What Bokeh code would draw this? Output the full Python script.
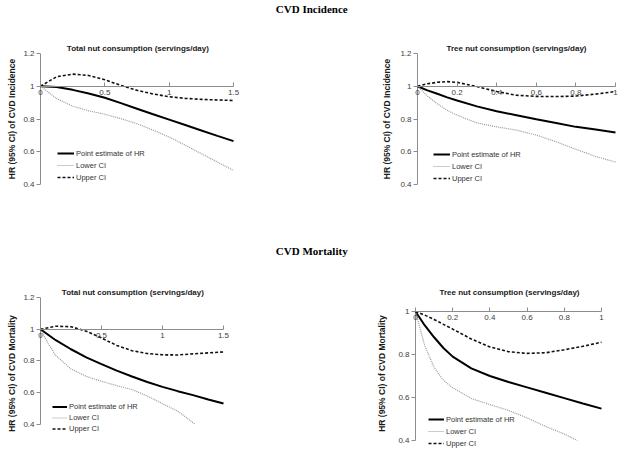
from bokeh.plotting import figure
from bokeh.layouts import column, row
from bokeh.models import Range1d, FixedTicker, Legend, LegendItem
from bokeh.core.properties import value
from bokeh.embed import file_html
from bokeh.resources import INLINE

# ---------------- data ----------------
section_titles = ["CVD Incidence", "CVD Mortality"]
panel_titles = ["Total nut consumption  (servings/day)", "Tree nut consumption (servings/day)"]
y_axis_labels = ["HR (95% CI) of CVD Incidence", "HR (95% CI) of CVD Mortality"]
legend_labels = ["Point estimate of HR", "Lower CI", "Upper CI"]

total_x_ticks = [0, 0.5, 1.0, 1.5]
total_x_tick_labels = ["0", "0.5", "1", "1.5"]
tree_x_ticks = [0, 0.2, 0.4, 0.6, 0.8, 1.0]
tree_x_tick_labels = ["0", "0.2", "0.4", "0.6", "0.8", "1"]
y_ticks_full = [0.4, 0.6, 0.8, 1.0, 1.2]
y_tick_labels_full = ["0.4", "0.6", "0.8", "1", "1.2"]
y_ticks_short = [0.4, 0.6, 0.8, 1.0]
y_tick_labels_short = ["0.4", "0.6", "0.8", "1"]

# Panel A: total nut consumption, CVD incidence
inc_total_x = [0, 0.125, 0.25, 0.375, 0.5, 0.625, 0.75, 0.875, 1.0, 1.125, 1.25, 1.375, 1.5]
inc_total_hr = [1.0, 0.995, 0.978, 0.956, 0.93, 0.897, 0.863, 0.829, 0.796, 0.763, 0.73, 0.697, 0.665]
inc_total_lo = [1.0, 0.925, 0.878, 0.85, 0.829, 0.802, 0.771, 0.732, 0.69, 0.64, 0.588, 0.537, 0.486]
inc_total_hi = [1.0, 1.058, 1.074, 1.066, 1.04, 1.005, 0.975, 0.953, 0.936, 0.926, 0.92, 0.916, 0.913]

# Panel B: tree nut consumption, CVD incidence
inc_tree_x = [0, 0.05, 0.1, 0.15, 0.2, 0.3, 0.4, 0.5, 0.6, 0.7, 0.8, 0.9, 1.0]
inc_tree_hr = [1.0, 0.975, 0.954, 0.932, 0.913, 0.877, 0.847, 0.823, 0.798, 0.776, 0.752, 0.736, 0.718]
inc_tree_lo = [1.0, 0.94, 0.893, 0.853, 0.823, 0.776, 0.752, 0.732, 0.702, 0.661, 0.615, 0.571, 0.537]
inc_tree_hi = [1.0, 1.015, 1.024, 1.028, 1.024, 0.998, 0.968, 0.945, 0.938, 0.937, 0.94, 0.952, 0.968]

# Panel C: total nut consumption, CVD mortality
mort_total_x = [0, 0.125, 0.25, 0.375, 0.5, 0.625, 0.75, 0.875, 1.0, 1.125, 1.25, 1.375, 1.5]
mort_total_hr = [1.0, 0.931, 0.874, 0.823, 0.78, 0.739, 0.702, 0.668, 0.637, 0.61, 0.585, 0.558, 0.532]
mort_total_hi = [1.0, 1.019, 1.016, 0.988, 0.945, 0.898, 0.865, 0.847, 0.839, 0.838, 0.845, 0.851, 0.857]
mort_total_lo_x = [0, 0.0625, 0.125, 0.25, 0.375, 0.5, 0.625, 0.75, 0.875, 1.0, 1.125, 1.27]
mort_total_lo = [1.0, 0.91, 0.835, 0.75, 0.703, 0.672, 0.645, 0.62, 0.58, 0.531, 0.484, 0.4]

# Panel D: tree nut consumption, CVD mortality
mort_tree_x = [0, 0.05, 0.1, 0.15, 0.2, 0.3, 0.4, 0.5, 0.6, 0.7, 0.8, 0.9, 1.0]
mort_tree_hr = [1.0, 0.935, 0.88, 0.83, 0.79, 0.735, 0.7, 0.672, 0.647, 0.622, 0.597, 0.572, 0.548]
mort_tree_hi = [1.0, 0.983, 0.963, 0.94, 0.918, 0.872, 0.835, 0.813, 0.805, 0.808, 0.822, 0.838, 0.857]
mort_tree_lo_x = [0, 0.025, 0.05, 0.1, 0.15, 0.2, 0.3, 0.4, 0.5, 0.6, 0.7, 0.8, 0.87]
mort_tree_lo = [1.0, 0.92, 0.84, 0.74, 0.68, 0.645, 0.595, 0.567, 0.54, 0.505, 0.465, 0.43, 0.4]

SANS = "Liberation Sans"
SERIF = "Liberation Serif"
AXIS_GRAY = "#8c8c8c"


def section(text):
    t = figure(width=620, height=16, x_range=Range1d(0, 1), y_range=Range1d(0, 1),
               x_axis_location=None, y_axis_location=None, min_border=0,
               outline_line_color=None, toolbar_location=None, output_backend="svg")
    t.grid.visible = False
    t.text(x=[0.502], y=[0.5], text=[text], text_align="center", text_baseline="middle",
           text_font=value(SERIF), text_font_style="bold", text_font_size="11px",
           text_color="#000000")
    return t


def panel(width, height, borders, xr, yr, xt, xtl, yt, ytl, title, t_offset,
          ylabel, yl_standoff, x, hr, lo_x, lo, hi, leg_loc, glyph_w, row_h):
    left, right, top, bottom = borders
    p = figure(width=width, height=height, x_range=Range1d(*xr), y_range=Range1d(*yr),
               output_backend="svg", toolbar_location=None,
               min_border_left=left, min_border_right=right,
               min_border_top=top, min_border_bottom=bottom,
               outline_line_color=None, background_fill_color="white",
               border_fill_color="white")
    p.grid.visible = False

    p.title.text = title
    p.title.align = "center"
    p.title.text_font = SANS
    p.title.text_font_size = "8px"
    p.title.text_font_style = "bold"
    p.title.text_color = "#1a1a1a"
    p.title.standoff = 1
    p.title.offset = t_offset

    # x axis crosses at HR = 1, spanning the tick range
    xa = p.xaxis[0]
    xa.fixed_location = 1.0
    xa.bounds = (xt[0], xt[-1])
    xa.ticker = FixedTicker(ticks=xt, minor_ticks=[])
    xa.major_label_overrides = dict(zip(xt, xtl))
    xa.axis_line_color = AXIS_GRAY
    xa.major_tick_line_color = AXIS_GRAY
    xa.major_tick_in = 4
    xa.major_tick_out = 0
    xa.minor_tick_line_color = None
    xa.major_label_standoff = 4
    xa.major_label_text_font = SANS
    xa.major_label_text_font_size = "8px"
    xa.major_label_text_color = "#404040"

    # y axis: ticks/labels from the left axis, its line drawn at x = 0
    ya = p.yaxis[0]
    ya.ticker = FixedTicker(ticks=yt, minor_ticks=[])
    ya.major_label_overrides = dict(zip(yt, ytl))
    ya.axis_line_color = None
    ya.major_tick_line_color = AXIS_GRAY
    ya.major_tick_in = 4
    ya.major_tick_out = 0
    ya.minor_tick_line_color = None
    ya.major_label_standoff = 2
    ya.major_label_text_font = SANS
    ya.major_label_text_font_size = "8px"
    ya.major_label_text_color = "#404040"
    ya.axis_label = ylabel
    ya.axis_label_text_font = SANS
    ya.axis_label_text_font_size = "8.5px"
    ya.axis_label_text_font_style = "bold"
    ya.axis_label_text_color = "#1a1a1a"
    ya.axis_label_standoff = yl_standoff
    p.segment(x0=[xt[0]], y0=[yt[0]], x1=[xt[0]], y1=[yt[-1]],
              line_color=AXIS_GRAY, line_width=1)

    r1 = p.line(x, hr, line_color="#000000", line_width=2)
    r2 = p.line(lo_x, lo, line_color="#999999", line_width=1.2, line_dash="1 1")
    r3 = p.line(x, hi, line_color="#111111", line_width=1.6, line_dash="3 2")

    leg = Legend(items=[LegendItem(label=legend_labels[0], renderers=[r1]),
                        LegendItem(label=legend_labels[1], renderers=[r2]),
                        LegendItem(label=legend_labels[2], renderers=[r3])],
                 location=leg_loc, glyph_width=glyph_w, glyph_height=row_h,
                 label_height=row_h, spacing=0, padding=0, margin=0,
                 label_standoff=2, border_line_color=None, background_fill_alpha=0,
                 label_text_font=SANS, label_text_font_size="7.5px",
                 label_text_color="#333333")
    p.add_layout(leg)
    return p


# view windows are a little wider than the tick spans so that the edge
# tick labels are not cut; the mortality row shares one frame height
pA = panel(318, 226, (36, 77, 37, 58), (-0.031, 1.562), (0.4, 1.2),
           total_x_ticks, total_x_tick_labels, y_ticks_full, y_tick_labels_full,
           panel_titles[0], 1, y_axis_labels[0], 3,
           inc_total_x, inc_total_hr, inc_total_x, inc_total_lo, inc_total_hi,
           (21, 1), 17, 12)
pB = panel(302, 226, (95, 1, 37, 58), (-0.0202, 1.0202), (0.4, 1.2),
           tree_x_ticks, tree_x_tick_labels, y_ticks_full, y_tick_labels_full,
           panel_titles[1], 0, y_axis_labels[0], 5,
           inc_tree_x, inc_tree_hr, inc_tree_x, inc_tree_lo, inc_tree_hi,
           (20, 0), 17, 12)
pC = panel(318, 193, (36, 87, 39, 2), (-0.0328, 1.5656), (0.2425, 1.2),
           total_x_ticks, total_x_tick_labels, y_ticks_full, y_tick_labels_full,
           panel_titles[0], -1, y_axis_labels[1], 3,
           mort_total_x, mort_total_hr, mort_total_lo_x, mort_total_lo, mort_total_hi,
           (16, 15), 15, 11)
pD = panel(302, 193, (93, 13, 39, 2), (-0.0215, 1.0323), (0.358, 1.065),
           tree_x_ticks, tree_x_tick_labels, y_ticks_short, y_tick_labels_short,
           panel_titles[1], -1, y_axis_labels[1], 8,
           mort_tree_x, mort_tree_hr, mort_tree_lo_x, mort_tree_lo, mort_tree_hi,
           (17, 0), 16, 12)

layout = column(section(section_titles[0]), row(pA, pB),
                section(section_titles[1]), row(pC, pD))

open("out.html", "w").write(file_html(layout, INLINE, "CVD nut consumption"))
